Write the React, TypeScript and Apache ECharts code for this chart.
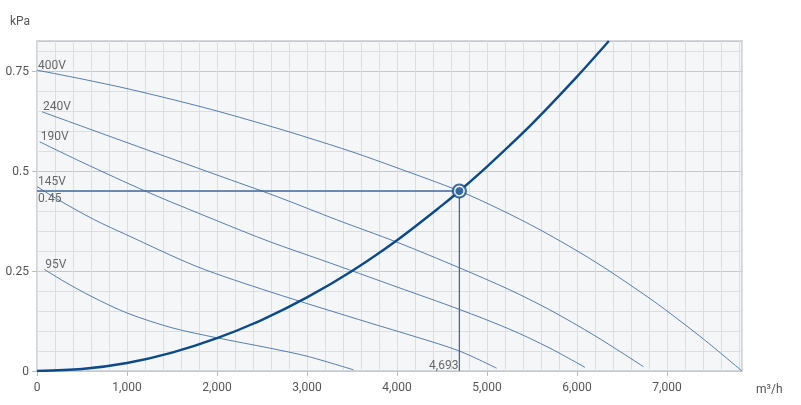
import React, { useEffect, useRef } from "react";
import * as echarts from "echarts";

// ---- data ----
const X_MAX = 7833;
const Y_MAX = 0.825;

const xTickLabels = ["0", "1,000", "2,000", "3,000", "4,000", "5,000", "6,000", "7,000"];
const yTickLabels = ["0", "0.25", "0.5", "0.75"];

const fan400Flow = [0, 500, 1000, 1500, 2000, 2667, 3000, 3500, 4000, 4693, 5144, 5589, 6033, 6367, 6811, 7000, 7404, 7833];
const fan400Pressure = [0.752, 0.73, 0.706, 0.679, 0.65, 0.607, 0.584, 0.548, 0.508, 0.45, 0.404, 0.353, 0.296, 0.249, 0.181, 0.15, 0.08, 0];

const fan240Flow = [56, 1000, 2000, 2667, 3330, 4000, 4693, 5256, 5700, 6200, 6737];
const fan240Pressure = [0.648, 0.571, 0.49, 0.436, 0.378, 0.322, 0.258, 0.2025, 0.1525, 0.088, 0.011];

const fan190Flow = [30, 500, 1222, 1963, 2589, 3163, 4000, 4693, 5256, 5700, 6089];
const fan190Pressure = [0.573, 0.522, 0.448, 0.379, 0.323, 0.2775, 0.21, 0.154, 0.104, 0.057, 0.009];

const fan145Flow = [0, 241, 630, 1000, 1778, 2589, 3700, 4200, 4693, 5107];
const fan145Pressure = [0.461, 0.4275, 0.379, 0.34, 0.261, 0.198, 0.12, 0.086, 0.05, 0.007];

const fan95Flow = [81, 300, 600, 1000, 1500, 2000, 2589, 3000, 3515];
const fan95Pressure = [0.254, 0.224, 0.187, 0.145, 0.108, 0.083, 0.057, 0.037, 0.003];

const systemFlow = [0, 500, 1000, 1500, 2000, 2500, 3000, 3500, 4000, 4500, 4693, 5000, 5500, 6000, 6354];
const systemPressure = [0, 0.005, 0.02, 0.046, 0.082, 0.128, 0.184, 0.25, 0.327, 0.414, 0.45, 0.511, 0.618, 0.736, 0.825];

const fanNames = ["400V", "240V", "190V", "145V", "95V"];

const opFlow = 4693;
const opPressure = 0.45;
const opFlowLabel = "4,693";
const opPressureLabel = "0.45";

// ---- styles ----
const FONT = "Roboto, 'Liberation Sans', sans-serif";
const FAN_COLOR = "#3f70b0";
const SYS_COLOR = "#0b4a8b";
const OP_COLOR = "#46699a";
const TEXT_COLOR = "#444";

const zip = (xs: number[], ys: number[]) => xs.map((x, i) => [x, ys[i]]);

export default function App() {
  const ref = useRef<HTMLDivElement>(null);

  useEffect(() => {
    if (!ref.current) return;
    const chart = echarts.init(ref.current, undefined, { renderer: "svg" });

    const fans = [
      zip(fan400Flow, fan400Pressure),
      zip(fan240Flow, fan240Pressure),
      zip(fan190Flow, fan190Pressure),
      zip(fan145Flow, fan145Pressure),
      zip(fan95Flow, fan95Pressure),
    ];

    const fanSeries = fans.map((d, i) => ({
      type: "line",
      name: fanNames[i],
      xAxisIndex: 1,
      yAxisIndex: 1,
      data: d,
      smooth: 0.3,
      showSymbol: false,
      symbol: "none",
      silent: true,
      lineStyle: { color: FAN_COLOR, width: 0.9 },
      z: 3,
    }));

    const nameLabels = fans.map((d, i) => ({
      value: d[0],
      label: {
        show: true,
        formatter: fanNames[i],
        position: "top",
        distance: 0,
        align: "left",
        verticalAlign: "bottom",
        offset: [1, 1],
      },
    }));

    const option: any = {
      animation: false,
      textStyle: { fontFamily: FONT },
      grid: {
        left: 37,
        right: 59,
        top: 41,
        bottom: 34,
        show: true,
        backgroundColor: "#f5f6f8",
        borderColor: "#d3d6db",
        borderWidth: 2,
      },
      xAxis: [
        {
          type: "value",
          position: "bottom",
          min: 0,
          max: X_MAX,
          interval: 200,
          axisLabel: { show: false },
          axisTick: { show: false },
          axisLine: { show: false },
          splitLine: { show: true, lineStyle: { color: "#dcdee2", width: 1 } },
        },
        {
          type: "value",
          position: "bottom",
          offset: 0,
          min: 0,
          max: X_MAX,
          interval: 1000,
          axisLabel: {
            color: "#555",
            fontSize: 12,
            fontFamily: FONT,
            margin: 10,
            showMaxLabel: false,
            formatter: (v: number) => xTickLabels[Math.round(v / 1000)] ?? "",
          },
          axisTick: { show: true, length: 5, lineStyle: { color: "#b9bec6" } },
          axisLine: { show: false },
          splitLine: { show: false },
        },
      ],
      yAxis: [
        {
          type: "value",
          position: "left",
          min: 0,
          max: Y_MAX,
          interval: 0.05,
          axisLabel: { show: false },
          axisTick: { show: false },
          axisLine: { show: false },
          splitLine: { show: true, lineStyle: { color: "#dcdee2", width: 1 } },
        },
        {
          type: "value",
          position: "left",
          offset: 0,
          min: 0,
          max: Y_MAX,
          interval: 0.25,
          axisLabel: {
            color: "#555",
            fontSize: 12,
            fontFamily: FONT,
            margin: 8,
            showMaxLabel: false,
            padding: [3, 0, 0, 0],
            formatter: (v: number) => yTickLabels[Math.round(v / 0.25)] ?? "",
          },
          axisTick: { show: true, length: 5, lineStyle: { color: "#b9bec6" } },
          axisLine: { show: false },
          splitLine: { show: true, lineStyle: { color: "#c4c9d0", width: 1 } },
        },
      ],
      graphic: [
        {
          type: "text",
          left: 10,
          top: 15,
          style: { text: "kPa", fill: "#555", font: `12px ${FONT}` },
        },
        {
          type: "text",
          left: 756,
          top: 383,
          style: { text: "m³/h", fill: "#555", font: `12px ${FONT}` },
        },
      ],
      series: [
        ...fanSeries,
        {
          type: "line",
          xAxisIndex: 1,
          yAxisIndex: 1,
          data: [
            [0, opPressure],
            [opFlow, opPressure],
            [opFlow, 0],
          ],
          symbol: "none",
          silent: true,
          lineStyle: { color: OP_COLOR, width: 1.3 },
          z: 4,
        },
        {
          type: "line",
          xAxisIndex: 1,
          yAxisIndex: 1,
          data: zip(systemFlow, systemPressure),
          smooth: 0.3,
          symbol: "none",
          silent: true,
          lineStyle: { color: SYS_COLOR, width: 2.4 },
          z: 5,
        },
        {
          type: "scatter",
          xAxisIndex: 1,
          yAxisIndex: 1,
          data: [[opFlow, opPressure]],
          symbol: "circle",
          symbolSize: 13,
          silent: true,
          itemStyle: { color: "#ffffff", borderColor: SYS_COLOR, borderWidth: 2 },
          z: 6,
        },
        {
          type: "scatter",
          xAxisIndex: 1,
          yAxisIndex: 1,
          data: [[opFlow, opPressure]],
          symbol: "circle",
          symbolSize: 8,
          silent: true,
          itemStyle: { color: SYS_COLOR },
          z: 7,
        },
        {
          type: "scatter",
          xAxisIndex: 1,
          yAxisIndex: 1,
          symbolSize: 1,
          silent: true,
          itemStyle: { color: "rgba(0,0,0,0)" },
          label: { color: TEXT_COLOR, fontSize: 12, fontFamily: FONT },
          data: [
            ...nameLabels,
            {
              value: [0, opPressure],
              label: {
                show: true,
                formatter: opPressureLabel,
                position: "bottom",
                distance: 0,
                align: "left",
                verticalAlign: "top",
                offset: [1, 0],
              },
            },
            {
              value: [opFlow, 0],
              label: {
                show: true,
                formatter: opFlowLabel,
                position: "top",
                distance: 0,
                align: "right",
                verticalAlign: "bottom",
                offset: [-1, 0.5],
              },
            },
          ],
          z: 8,
        },
      ],
    };

    chart.setOption(option);
    return () => chart.dispose();
  }, []);

  return (
    <div
      ref={ref}
      style={{ position: "fixed", left: 0, top: 0, width: 801, height: 405 }}
    />
  );
}
